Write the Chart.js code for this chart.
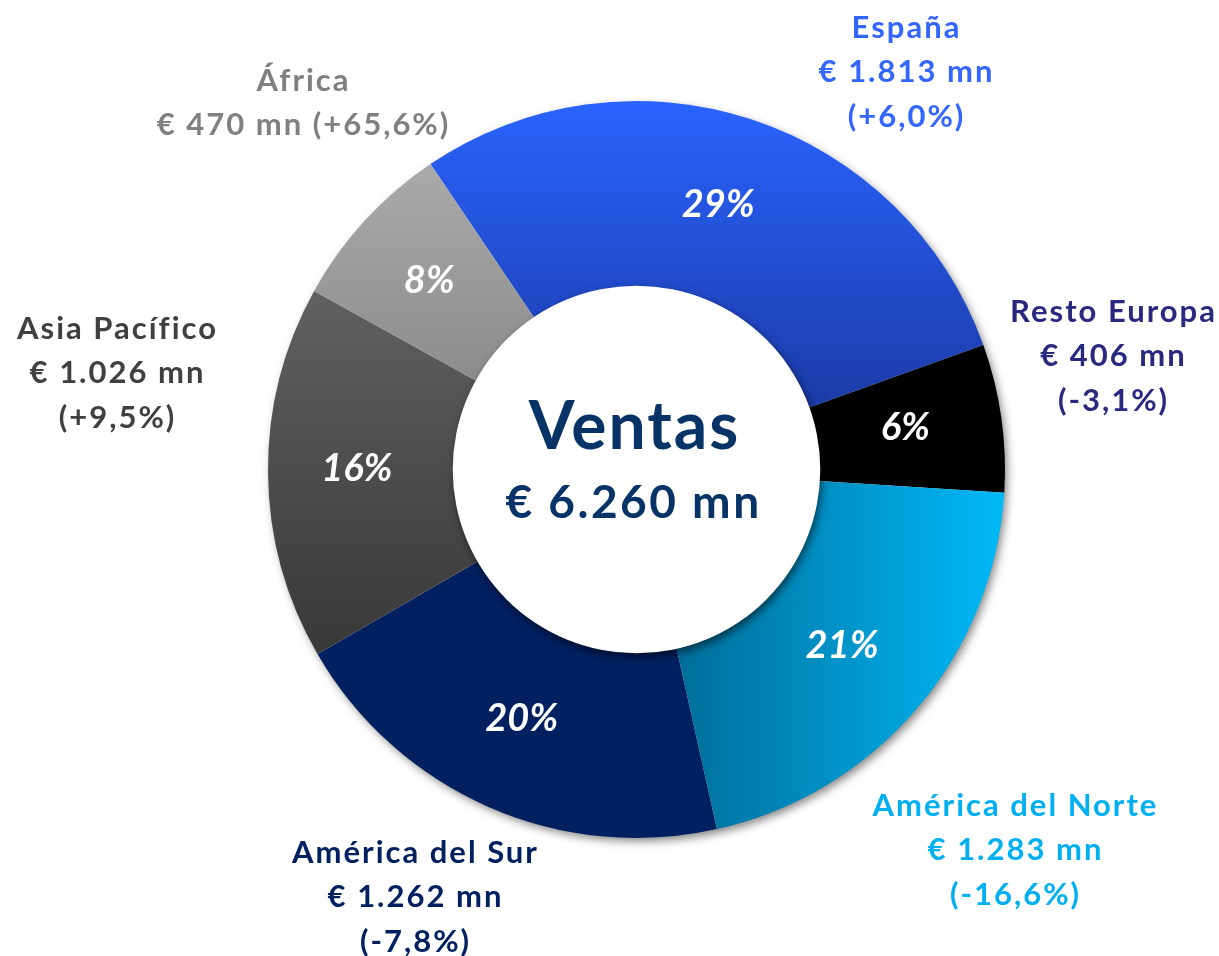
<!DOCTYPE html>
<html>
<head>
<meta charset="utf-8">
<script src="https://cdn.jsdelivr.net/npm/chart.js@4/dist/chart.umd.min.js"></script>
<style>
  html, body { margin: 0; padding: 0; background: #fff; }
  #wrap { width: 1219px; height: 956px; }
</style>
</head>
<body>
<div id="wrap"><canvas id="donut" width="1219" height="956"></canvas></div>
<script>
// Ventas por región (€ mn)
const regions = ['España', 'Resto Europa', 'América del Norte', 'América del Sur', 'Asia Pacífico', 'África']
const sales = [1813, 406, 1283, 1262, 1026, 470]
const changes = ['+6,0%', '-3,1%', '-16,6%', '-7,8%', '+9,5%', '+65,6%']
const shares = ['29%', '6%', '21%', '20%', '16%', '8%']
const totalLabel = '€ 6.260 mn'

// label layout (relative to the doughnut centre), colours
const labelColors = ['#3366ff', '#29297f', '#00b0f0', '#002060', '#404040', '#808080']
const labelPos = [
	{ dx: 269, dy: -442 },
	{ dx: 476, dy: -158 },
	{ dx: 378, dy: 336 },
	{ dx: -222, dy: 383 },
	{ dx: -520, dy: -141 },
	{ dx: -334, dy: -389, oneLine: true }
]

const fmt = n => n.toString().replace(/\B(?=(\d{3})+(?!\d))/g, '.')

function fill(ctx) {
	const chart = ctx.chart
	const a = chart.chartArea
	const i = ctx.dataIndex
	const plain = ['#2254f0', '#000000', '#0096d0', '#002060', '#4d4d4d', '#9a9a9a']
	if (!a) return plain[i]
	const c = chart.ctx
	const cx = (a.left + a.right) / 2
	const cy = (a.top + a.bottom) / 2
	const r = Math.min(a.width, a.height) / 2
	let g
	if (i === 0) {
		g = c.createLinearGradient(0, cy - r, 0, cy - 0.15 * r)
		g.addColorStop(0, '#2a63ff')
		g.addColorStop(1, '#1b3aa6')
	} else if (i === 2) {
		g = c.createLinearGradient(cx + 0.1 * r, 0, cx + r, 0)
		g.addColorStop(0, '#006d98')
		g.addColorStop(1, '#00b9f8')
	} else if (i === 4) {
		g = c.createLinearGradient(0, cy - 0.5 * r, 0, cy + 0.5 * r)
		g.addColorStop(0, '#616161')
		g.addColorStop(1, '#383838')
	} else if (i === 5) {
		g = c.createLinearGradient(0, cy - 0.85 * r, 0, cy - 0.2 * r)
		g.addColorStop(0, '#ababab')
		g.addColorStop(1, '#8a8a8a')
	} else {
		return plain[i]
	}
	return g
}

const decor = {
	id: 'decor',
	beforeDatasetsDraw(chart) {
		const arc = chart.getDatasetMeta(0).data[0]
		const c = chart.ctx
		c.save()
		c.shadowColor = 'rgba(0,0,0,0.5)'
		c.shadowBlur = 10
		c.shadowOffsetX = 3
		c.shadowOffsetY = 4
		c.fillStyle = '#ffffff'
		c.beginPath()
		c.arc(arc.x, arc.y, arc.outerRadius - 1, 0, Math.PI * 2)
		c.fill()
		c.restore()
	},
	afterDatasetsDraw(chart) {
		const meta = chart.getDatasetMeta(0)
		const arc0 = meta.data[0]
		const c = chart.ctx
		const cx = arc0.x, cy = arc0.y
		// raised centre disc
		c.save()
		c.shadowColor = 'rgba(0,0,0,0.55)'
		c.shadowBlur = 9
		c.shadowOffsetX = 2
		c.shadowOffsetY = 4
		c.fillStyle = '#ffffff'
		c.beginPath()
		c.arc(cx, cy, arc0.innerRadius + 1, 0, Math.PI * 2)
		c.fill()
		c.restore()

		c.save()
		c.textAlign = 'center'
		c.textBaseline = 'middle'
		c.fillStyle = '#083366'
		c.letterSpacing = '2px'
		c.font = 'bold 66px Lato'
		c.fillText('Ventas', cx - 2, cy - 42)
		c.letterSpacing = '2.5px'
		c.font = 'bold 46px Lato'
		c.fillText(totalLabel, cx - 3, cy + 34)

		// shares inside the ring
		c.fillStyle = '#ffffff'
		c.letterSpacing = '0px'
		c.font = 'italic bold 38px Lato'
		meta.data.forEach((el, i) => {
			const p = el.tooltipPosition()
			c.fillText(shares[i], p.x - 4, p.y - 3)
		})

		// outside labels
		c.font = 'bold 31px Lato'
		c.letterSpacing = '2px'
		meta.data.forEach((el, i) => {
			const pos = labelPos[i]
			const value = '€ ' + fmt(sales[i]) + ' mn'
			const lines = pos.oneLine
				? [regions[i], value + ' (' + changes[i] + ')']
				: [regions[i], value, '(' + changes[i] + ')']
			c.fillStyle = labelColors[i]
			lines.forEach((t, k) => c.fillText(t, cx + pos.dx + 1, cy + pos.dy + k * 44.5))
		})
		c.restore()
	}
}

new Chart(document.getElementById('donut'), {
	type: 'doughnut',
	data: {
		labels: regions,
		datasets: [{
			data: sales,
			backgroundColor: fill,
			borderWidth: 0,
			hoverOffset: 0
		}]
	},
	options: {
		responsive: false,
		animation: false,
		events: [],
		rotation: -34,
		cutout: '49.6%',
		layout: { padding: { left: 268, right: 214, top: 101, bottom: 118 } },
		plugins: {
			legend: { display: false },
			tooltip: { enabled: false }
		}
	},
	plugins: [decor]
})
</script>
</body>
</html>
